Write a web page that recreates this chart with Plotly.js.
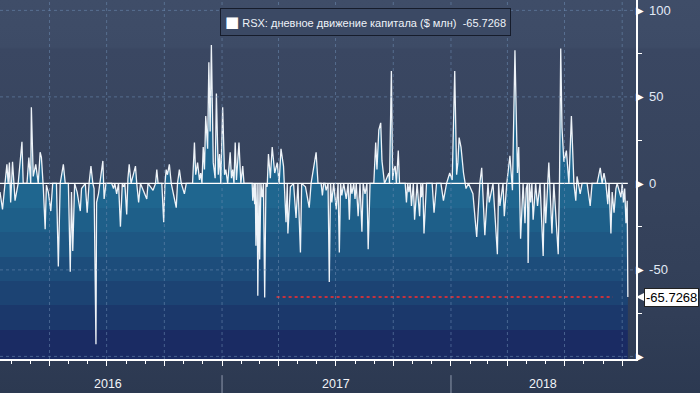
<!DOCTYPE html>
<html>
<head>
<meta charset="utf-8">
<script src="https://cdn.plot.ly/plotly-3.0.1.min.js"></script>
<style>
  html, body { margin: 0; padding: 0; }
  body {
    width: 700px; height: 393px; overflow: hidden;
    background: linear-gradient(to bottom, #3f4d68 0%, #3d4b66 12%, #3a4762 12.5%, #36435c 50%, #313e57 80%, #2c3951 100%);
  }
  #chart { width: 700px; height: 393px; }
</style>
</head>
<body>
<div id="chart"></div>
<script>
// ---- data ----
const seriesName = 'RSX: дневное движение капитала ($ млн)';

const dates = [
 '2016-01-13','2016-01-17','2016-01-21','2016-01-24','2016-01-26','2016-01-28','2016-01-30','2016-02-02','2016-02-06','2016-02-09',
 '2016-02-11','2016-02-17','2016-02-19','2016-02-25','2016-02-28','2016-03-02','2016-03-03','2016-03-06','2016-03-10','2016-03-14',
 '2016-03-17','2016-03-19','2016-03-22','2016-03-25','2016-03-27','2016-03-30','2016-04-03','2016-04-06','2016-04-12','2016-04-15',
 '2016-04-18','2016-04-23','2016-04-26','2016-05-01','2016-05-04','2016-05-06','2016-05-08','2016-05-11','2016-05-15','2016-05-20',
 '2016-05-22','2016-05-28','2016-05-31','2016-06-03','2016-06-06','2016-06-09','2016-06-11','2016-06-14','2016-06-15','2016-06-18',
 '2016-06-20','2016-06-25','2016-06-27','2016-06-30','2016-07-09','2016-07-12','2016-07-14','2016-07-17','2016-07-20','2016-07-23',
 '2016-07-26','2016-07-28','2016-07-30','2016-08-02','2016-08-04','2016-08-06','2016-08-09','2016-08-16','2016-08-18','2016-08-21',
 '2016-08-24','2016-09-03','2016-09-05','2016-09-13','2016-09-17','2016-09-19','2016-09-21','2016-09-27','2016-09-30','2016-10-02',
 '2016-10-04','2016-10-06','2016-10-09','2016-10-12','2016-10-20','2016-10-22','2016-10-25','2016-10-28','2016-11-02','2016-11-05',
 '2016-11-15','2016-11-18','2016-11-20','2016-11-23','2016-11-26','2016-11-28','2016-11-30','2016-12-02','2016-12-04','2016-12-06',
 '2016-12-09','2016-12-11','2016-12-13','2016-12-15','2016-12-18','2016-12-21','2016-12-23','2016-12-26','2016-12-28','2016-12-30',
 '2017-01-02','2017-01-05','2017-01-07','2017-01-10','2017-01-14','2017-01-16','2017-01-18','2017-01-20','2017-01-22','2017-01-24',
 '2017-01-28','2017-01-31','2017-02-03','2017-02-05','2017-02-18','2017-02-19','2017-02-21','2017-02-22','2017-02-23','2017-02-24',
 '2017-02-26','2017-02-27','2017-03-01','2017-03-02','2017-03-04','2017-03-06','2017-03-08','2017-03-10','2017-03-12','2017-03-14',
 '2017-03-16','2017-03-19','2017-03-22','2017-03-26','2017-03-30','2017-04-02','2017-04-05','2017-04-09','2017-04-13','2017-04-15',
 '2017-04-16','2017-04-20','2017-04-25','2017-04-29','2017-05-02','2017-05-06','2017-05-08','2017-05-14','2017-05-20','2017-05-23',
 '2017-05-31','2017-06-03','2017-06-08','2017-06-10','2017-06-12','2017-06-14','2017-06-16','2017-06-19','2017-06-21','2017-06-23',
 '2017-06-25','2017-06-28','2017-07-02','2017-07-05','2017-07-07','2017-07-09','2017-07-11','2017-07-14','2017-07-18','2017-07-21',
 '2017-07-23','2017-07-25','2017-07-27','2017-07-30','2017-08-01','2017-08-03','2017-08-06','2017-08-09','2017-08-12','2017-08-14',
 '2017-08-17','2017-08-20','2017-08-22','2017-08-25','2017-08-31','2017-09-03','2017-09-05','2017-09-08','2017-09-11','2017-09-13',
 '2017-09-17','2017-09-24','2017-09-25','2017-09-28','2017-09-30','2017-10-02','2017-10-04','2017-10-06','2017-10-09','2017-10-11',
 '2017-10-20','2017-10-22','2017-10-24','2017-10-26','2017-10-28','2017-10-30','2017-11-02','2017-11-04','2017-11-08','2017-11-12',
 '2017-11-14','2017-11-15','2017-11-17','2017-11-19','2017-11-23','2017-12-02','2017-12-05','2017-12-09','2017-12-16','2017-12-20',
 '2017-12-25','2017-12-30','2018-01-03','2018-01-07','2018-01-10','2018-01-12','2018-01-14','2018-01-17','2018-01-21','2018-01-25',
 '2018-01-29','2018-02-05','2018-02-11','2018-02-16','2018-02-19','2018-02-24','2018-03-01','2018-03-03','2018-03-09','2018-03-16',
 '2018-03-18','2018-03-20','2018-03-25','2018-03-27','2018-03-31','2018-04-05','2018-04-09','2018-04-13','2018-04-17','2018-04-19',
 '2018-04-22','2018-04-26','2018-04-29','2018-05-01','2018-05-03','2018-05-04','2018-05-06','2018-05-08','2018-05-10','2018-05-12',
 '2018-05-16','2018-05-19','2018-05-23','2018-05-28','2018-05-30','2018-06-01','2018-06-06','2018-06-11','2018-06-14','2018-06-21',
 '2018-06-23','2018-06-25','2018-06-27','2018-06-30','2018-07-04','2018-07-08','2018-07-12','2018-07-16','2018-07-19','2018-07-21',
 '2018-07-26','2018-07-29','2018-08-06','2018-08-11','2018-08-14','2018-08-22','2018-08-27','2018-08-30','2018-09-02','2018-09-05',
 '2018-09-08','2018-09-10','2018-09-13','2018-09-15','2018-09-18','2018-09-21','2018-09-23','2018-09-29','2018-10-01','2018-10-03',
 '2018-10-05','2018-10-07','2018-10-09','2018-10-10'
];

const flows = [
 -5,-15,0,11,0,12,-11,12.5,-10,-3,
 0,24,0,0,15,0,44,4,11,0,
 18,15,-2,-26.5,-1,-5,-16,0,0,-48,
 0,11,0,0,-51,-5,-39,0,-5,-16,
 -3,0,-17,0,10,0,-3,-93,-11,-6,
 0,13,-9,0,0,-3,0,-6,0,-25,
 0,-2,0,-18,3,11,0,10,0,-11,
 0,-9,0,-4,0,8,0,0,-22.5,0,
 8,5,11,0,-14,0,8,0,-6,0,
 0,23.6,5,12,2,6,0,21,8,39,
 20,70,30,80,12,3,52,5,17,0,
 44,5,8,0,18,3,8,0,23.6,2,
 23.6,0,10,0,0,-10,0,-12,0,-36,
 0,-65,0,-44,0,-8,0,-66,0,-2,
 17,3,21,6,12,0,20,10,-22.5,0,
 -29,-2,0,-20,0,-40,0,-2,-14,0,
 18,0,0,-7,0,0,-4,0,-57,0,
 -11,0,-15,0,-40,0,-7,0,-9,0,
 -21,0,-6,0,-9,0,-19,0,-28,0,
 -6,0,-38,0,0,23.6,8,31,35,13,
 0,6,0,65,2,8,10,0,19,0,
 0,-11,0,-5,0,-13,0,-21,0,-19,
 0,-8,0,-29,0,0,-17,0,0,-10,
 0,6,2,65,5,12,26.5,21,6,-3,
 0,-6,-31,0,9,-30,0,-11,0,-41,
 0,-13,0,-19,0,16,-4,77,6,21,
 -32,0,-23,-3,0,-46,0,-11,0,-21,
 0,-13,0,-42,0,-23,12,-29,0,-41,
 0,78,32,12.5,19,0,39,0,-10,4,
 -6,0,0,-13,0,0,9,0,6,0,
 -12,0,-29,-5,-17,-3,0,-8,0,-11,
 -3,-23,-10,-65.7268
];

// dates spanned by the red dotted reference level
const levelDates = ['2017-03-29', '2018-09-16'];

// axis tick labels
const yTickVals = [-100, -50, 0, 50, 100];
const yTickText = ['', '-50', '0', '50', '100'];
const yMinorVals = [-75, -25, 25, 75];
const years = ['2016', '2017', '2018'];
const yearLabelDates = ['2016-07-03', '2017-07-02', '2018-05-27'];
const yearStarts = ['2017-01-01', '2018-01-01'];

// ---- styling ----
const X_RANGE = ['2016-01-13', '2018-10-23'];
const Y_MIN = -101.5, Y_MAX = 106;
const FONT = 'Liberation Sans, Arial, sans-serif';
const bandColors = ['#1a2b63', '#1b386b', '#1c4373', '#1d4d7b', '#1e5783', '#1e5f89', '#1f668f'];
const bandStep = 14.1;

// stepped colour scale for the banded fill below zero
const bandScale = [];
for (let i = 0; i < bandColors.length; i++) {
  const lo = i === 0 ? 0 : ((-bandStep * (bandColors.length - i)) - Y_MIN) / (0 - Y_MIN);
  const hi = i === bandColors.length - 1 ? 1 : ((-bandStep * (bandColors.length - 1 - i)) - Y_MIN) / (0 - Y_MIN);
  bandScale.push([lo, bandColors[i]]);
  bandScale.push([hi, bandColors[i]]);
}

const lastVal = flows[flows.length - 1];
const lastDate = dates[dates.length - 1];

const traces = [
  { // invisible floor for the fill
    x: [dates[0], lastDate], y: [Y_MIN, Y_MIN],
    mode: 'lines', line: { width: 0, color: 'rgba(0,0,0,0)' }, hoverinfo: 'skip', showlegend: false
  },
  {
    x: dates, y: flows, name: seriesName,
    mode: 'lines', line: { color: '#eef3f8', width: 1.3 },
    fill: 'tonexty',
    fillgradient: { type: 'vertical', start: Y_MIN, stop: 0, colorscale: bandScale },
    showlegend: false
  },
  { // zero level line
    x: [dates[0], lastDate], y: [0, 0],
    mode: 'lines', line: { color: '#ffffff', width: 1.2 }, hoverinfo: 'skip', showlegend: false
  },
  { // red dotted level
    x: levelDates, y: [lastVal, lastVal],
    mode: 'lines', line: { color: '#ff2d2d', width: 1.5, dash: 'dot' }, hoverinfo: 'skip', showlegend: false
  }
];

// dashed grid drawn on top of the fill
const gridStyle = { color: 'rgba(110,140,178,0.55)', width: 1, dash: '3px,3px' };
const shapes = [];
for (let yr = 2016; yr <= 2018; yr++) {
  for (let m = 1; m <= 10; m += 3) {
    const d = yr + '-' + String(m).padStart(2, '0') + '-01';
    if (d > X_RANGE[0] && d < X_RANGE[1]) {
      shapes.push({ type: 'line', layer: 'above', xref: 'x', yref: 'paper', x0: d, x1: d, y0: 0, y1: 1, line: gridStyle });
    }
  }
}
yTickVals.forEach(v => {
  if (v !== 0) shapes.push({ type: 'line', layer: 'above', xref: 'paper', yref: 'y', x0: 0, x1: 1, y0: v, y1: v, line: gridStyle });
});
yearStarts.forEach(d => {
  shapes.push({ type: 'line', xref: 'x', yref: 'paper', x0: d, x1: d, y0: -0.045, y1: -0.095, line: { color: '#8f99ad', width: 1 } });
});

const annotations = [];
yTickVals.forEach(v => {
  annotations.push({ xref: 'paper', yref: 'y', x: 1, y: v, xanchor: 'left', yanchor: 'middle', xshift: -2,
    text: '▶', showarrow: false, font: { family: 'DejaVu Sans', size: 10, color: '#ffffff' } });
});
years.forEach((t, i) => {
  annotations.push({ xref: 'x', yref: 'paper', x: yearLabelDates[i], y: -0.07, yanchor: 'middle',
    text: t, showarrow: false, font: { family: FONT, size: 12.5, color: '#f2f4f8' } });
});
// legend box
annotations.push({
  xref: 'paper', yref: 'paper', x: 0.5747, y: 0.9387, xanchor: 'center', yanchor: 'middle',
  text: '<span style="font-family:DejaVu Sans;font-size:15px;color:#ffffff">■</span>&nbsp;' + seriesName + '&nbsp;&nbsp;' + lastVal.toFixed(4),
  showarrow: false, font: { family: FONT, size: 11, color: '#eef2f8' },
  bgcolor: '#3b4964', bordercolor: '#161c2b', borderwidth: 1, borderpad: 4
});
// last value tag with a pointer to the axis
annotations.push({
  xref: 'paper', yref: 'y', x: 1, y: lastVal, ax: 8, ay: 0, xanchor: 'left', yanchor: 'middle',
  showarrow: true, arrowhead: 2, arrowsize: 1, arrowwidth: 1.6, arrowcolor: '#ffffff', standoff: 0,
  text: lastVal.toFixed(4), font: { family: FONT, size: 13, color: '#000000' },
  bgcolor: '#ffffff', bordercolor: '#222222', borderwidth: 1, borderpad: 1
});

const layout = {
  width: 700, height: 393,
  margin: { l: 0, r: 64, t: 0, b: 34 },
  paper_bgcolor: 'rgba(0,0,0,0)', plot_bgcolor: 'rgba(0,0,0,0)',
  showlegend: false,
  font: { family: FONT, color: '#e4ebf6' },
  xaxis: {
    type: 'date', range: X_RANGE, showgrid: false, zeroline: false,
    showline: true, linecolor: '#ffffff', linewidth: 1.5,
    ticks: 'outside', ticklen: 5, tickcolor: '#ffffff', tickwidth: 1,
    tick0: '2016-01-01', dtick: 'M3', showticklabels: false,
    minor: { tick0: '2016-01-01', dtick: 'M1', ticks: 'outside', ticklen: 3, tickcolor: '#ffffff' }
  },
  yaxis: {
    side: 'right', range: [Y_MIN, Y_MAX], showgrid: false, zeroline: false,
    showline: true, linecolor: '#ffffff', linewidth: 1.5,
    tickmode: 'array', tickvals: yTickVals, ticktext: yTickText, ticks: '',
    ticklabelstandoff: 9,
    tickfont: { family: FONT, size: 13, color: '#e2eaf6' },
    minor: { tickmode: 'array', tickvals: yMinorVals, ticks: 'outside', ticklen: 4, tickcolor: '#ffffff' }
  },
  shapes: shapes,
  annotations: annotations
};

Plotly.newPlot('chart', traces, layout, { displayModeBar: false, staticPlot: true });
</script>
</body>
</html>
